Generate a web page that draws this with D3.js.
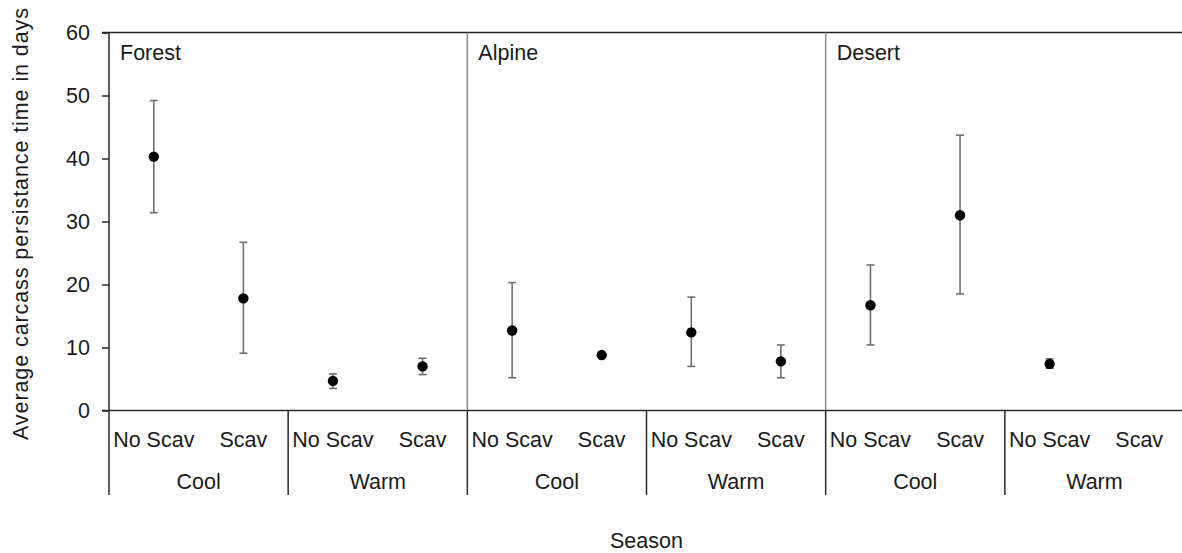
<!DOCTYPE html>
<html>
<head>
<meta charset="utf-8">
<script src="https://cdn.jsdelivr.net/npm/d3@7"></script>
<style>
  html, body { margin: 0; padding: 0; background: #fff; }
  svg { display: block; }
  text { font-family: "Liberation Sans", Arial, sans-serif; fill: #1a1a1a; }
</style>
</head>
<body>
<svg id="chart" width="1182" height="553"></svg>
<script>
// Habitat panels, seasons and scavenger treatments
const habitats = ["Forest", "Alpine", "Desert"];
const seasons = ["Cool", "Warm"];
const treatments = ["No Scav", "Scav"];

// Average carcass persistence (days), ordered habitat > season > treatment
const means = [40.3, 17.8, 4.7, 7.0, 12.7, 8.8, 12.4, 7.8, 16.7, 31.0, 7.4, null];
const upper = [49.2, 26.7, 5.8, 8.3, 20.3, null, 18.0, 10.4, 23.1, 43.7, 8.2, null];
const lower = [31.4, 9.1, 3.5, 5.7, 5.2, null, 7.0, 5.2, 10.4, 18.5, 6.7, null];

const yTicks = [0, 10, 20, 30, 40, 50, 60];

const svg = d3.select("#chart");
const plotLeft = 109, plotRight = 1184, plotTop = 32.5, plotBottom = 410.5;
const groupBottom = 495;

// Build the category keys
const cats = [];
habitats.forEach(h => seasons.forEach(s => treatments.forEach(t => cats.push(`${h}|${s}|${t}`))));
const groups = [];
habitats.forEach(h => seasons.forEach(s => groups.push(`${h}|${s}`)));

const x = d3.scaleBand().domain(cats).range([plotLeft, plotRight]);
const xg = d3.scaleBand().domain(groups).range([plotLeft, plotRight]);
const xh = d3.scaleBand().domain(habitats).range([plotLeft, plotRight]);
const y = d3.scaleLinear().domain([0, 60]).range([plotBottom, plotTop]);

// Y axis
const yAxis = svg.append("g")
  .attr("transform", `translate(${plotLeft},0)`)
  .call(d3.axisLeft(y).tickValues(yTicks).tickSize(7).tickPadding(12));
yAxis.select(".domain").remove();
yAxis.selectAll(".tick line").attr("stroke", "#2a2a2a").attr("stroke-width", 1.5);
yAxis.selectAll(".tick text")
  .style("font-size", "21.5px")
  .style("font-family", "'Liberation Sans', Arial, sans-serif")
  .attr("fill", "#1a1a1a");

// Frame: left axis (extended below), top border, baseline
svg.append("line").attr("x1", plotLeft).attr("x2", plotLeft).attr("y1", plotTop).attr("y2", groupBottom)
  .attr("stroke", "#2a2a2a").attr("stroke-width", 1.5);
svg.append("line").attr("x1", plotLeft - 7).attr("x2", plotRight).attr("y1", plotTop).attr("y2", plotTop)
  .attr("stroke", "#222").attr("stroke-width", 1.6);
svg.append("line").attr("x1", plotLeft - 7).attr("x2", plotRight).attr("y1", y(0)).attr("y2", y(0))
  .attr("stroke", "#2a2a2a").attr("stroke-width", 1.5);
svg.append("line").attr("x1", plotRight).attr("x2", plotRight).attr("y1", plotTop).attr("y2", groupBottom)
  .attr("stroke", "#2a2a2a").attr("stroke-width", 1.5);

// Habitat panel dividers inside the plot
habitats.slice(1).forEach(h => {
  svg.append("line").attr("x1", xh(h)).attr("x2", xh(h)).attr("y1", plotTop).attr("y2", y(0))
    .attr("stroke", "#8a8a8a").attr("stroke-width", 1.5);
});

// Season group dividers below the axis
groups.slice(1).forEach(g => {
  svg.append("line").attr("x1", xg(g)).attr("x2", xg(g)).attr("y1", y(0)).attr("y2", groupBottom)
    .attr("stroke", "#2a2a2a").attr("stroke-width", 1.5);
});

// Panel titles
svg.selectAll("text.habitat").data(habitats).join("text")
  .attr("class", "habitat")
  .attr("x", d => xh(d) + 11)
  .attr("y", 60)
  .style("font-size", "21.5px")
  .text(d => d);

// Treatment labels
svg.selectAll("text.treat").data(cats).join("text")
  .attr("class", "treat")
  .attr("x", d => x(d) + x.bandwidth() / 2)
  .attr("y", 447)
  .attr("text-anchor", "middle")
  .style("font-size", "21.5px")
  .text(d => d.split("|")[2]);

// Season labels
svg.selectAll("text.season").data(groups).join("text")
  .attr("class", "season")
  .attr("x", d => xg(d) + xg.bandwidth() / 2)
  .attr("y", 489)
  .attr("text-anchor", "middle")
  .style("font-size", "21.5px")
  .text(d => d.split("|")[1]);

// Axis titles
svg.append("text")
  .attr("x", (plotLeft + plotRight) / 2)
  .attr("y", 548)
  .attr("text-anchor", "middle")
  .style("font-size", "21.5px")
  .text("Season");

svg.append("text")
  .attr("transform", "translate(28,224) rotate(-90)")
  .attr("text-anchor", "middle")
  .attr("textLength", 432)
  .attr("lengthAdjust", "spacing")
  .style("font-size", "21.5px")
  .text("Average carcass persistance time in days");

// Error bars and points
const pts = cats.map((c, i) => ({ c, m: means[i], hi: upper[i], lo: lower[i] }))
  .filter(d => d.m !== null);
const cx = d => x(d.c) + x.bandwidth() / 2;
const bars = pts.filter(d => d.hi !== null);
const eb = svg.append("g").attr("stroke", "#707070").attr("stroke-width", 1.6);
eb.selectAll("line.stem").data(bars).join("line")
  .attr("class", "stem")
  .attr("x1", cx).attr("x2", cx).attr("y1", d => y(d.hi)).attr("y2", d => y(d.lo));
eb.selectAll("line.capHi").data(bars).join("line")
  .attr("class", "capHi")
  .attr("x1", d => cx(d) - 4).attr("x2", d => cx(d) + 4).attr("y1", d => y(d.hi)).attr("y2", d => y(d.hi));
eb.selectAll("line.capLo").data(bars).join("line")
  .attr("class", "capLo")
  .attr("x1", d => cx(d) - 4).attr("x2", d => cx(d) + 4).attr("y1", d => y(d.lo)).attr("y2", d => y(d.lo));

svg.append("g").selectAll("circle").data(pts).join("circle")
  .attr("cx", cx).attr("cy", d => y(d.m)).attr("r", 5.2).attr("fill", "#000");
</script>
</body>
</html>
